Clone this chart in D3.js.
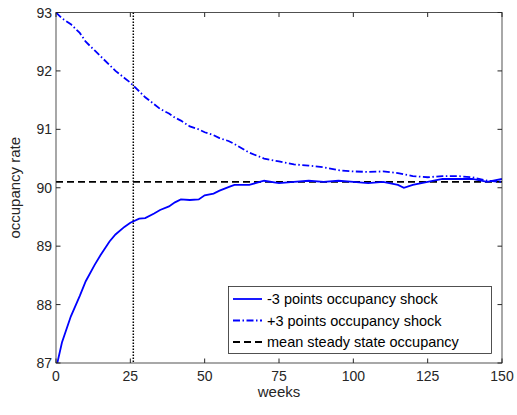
<!DOCTYPE html>
<html><head><meta charset="utf-8">
<script src="https://cdn.jsdelivr.net/npm/d3@7"></script>
<style>body{margin:0;background:#fff}text{font-family:Arial,"Liberation Sans",sans-serif}</style>
</head><body><svg id="c" width="517" height="415"></svg>
<script>
const weeks = [0,2,5,8,10,13,15,18,20,23,25,28,30,33,35,38,40,42,45,48,50,53,55,58,60,65,70,75,80,85,90,95,100,105,110,115,117,120,125,130,135,140,145,150];
const lowShock = [86.9,87.35,87.8,88.15,88.4,88.68,88.85,89.08,89.2,89.33,89.4,89.47,89.48,89.56,89.62,89.68,89.75,89.8,89.79,89.8,89.87,89.9,89.95,90.01,90.05,90.05,90.12,90.08,90.1,90.12,90.1,90.12,90.1,90.08,90.1,90.05,90.0,90.05,90.1,90.15,90.15,90.15,90.1,90.15];
const highShock = [93,92.9,92.8,92.65,92.5,92.35,92.25,92.1,92.0,91.88,91.8,91.65,91.55,91.43,91.35,91.27,91.2,91.15,91.05,91.0,90.95,90.9,90.85,90.8,90.75,90.6,90.5,90.45,90.4,90.38,90.35,90.3,90.28,90.27,90.28,90.25,90.23,90.2,90.18,90.2,90.2,90.18,90.12,90.1];
const steady = 90.1, markWeek = 26;
const xTicks = [0,25,50,75,100,125,150], yTicks = [87,88,89,90,91,92,93];
const legendLabels = ["-3 points occupancy shock","+3 points occupancy shock","mean steady state occupancy"];

const L=56,R=502,T=12.5,B=363;
const svg=d3.select("#c");
const x=d3.scaleLinear().domain([0,150]).range([L,R]);
const y=d3.scaleLinear().domain([87,93]).range([B,T]);
svg.append("defs").append("clipPath").attr("id","cp").append("rect").attr("x",L).attr("y",T).attr("width",R-L).attr("height",B-T);
const g=svg.append("g").attr("clip-path","url(#cp)");
const line=d3.line().x((d,i)=>x(weeks[i])).y(d=>y(d));
g.append("line").attr("x1",x(0)).attr("x2",x(150)).attr("y1",y(steady)).attr("y2",y(steady)).attr("stroke","#000").attr("stroke-width",1.8).attr("stroke-dasharray","7,4");
g.append("line").attr("x1",x(markWeek)).attr("x2",x(markWeek)).attr("y1",T).attr("y2",B).attr("stroke","#000").attr("stroke-width",1.5).attr("stroke-dasharray","1.5,1.5");
g.append("path").datum(lowShock).attr("d",line).attr("fill","none").attr("stroke","#0000ff").attr("stroke-width",1.8);
g.append("path").datum(highShock).attr("d",line).attr("fill","none").attr("stroke","#0000ff").attr("stroke-width",1.8).attr("stroke-dasharray","7,2.5,1.5,2.5");

const ax=svg.append("g").attr("font-size",14).attr("fill","#262626");
xTicks.forEach(t=>{
  ax.append("line").attr("x1",x(t)).attr("x2",x(t)).attr("y1",B).attr("y2",B-4.5).attr("stroke","#262626");
  ax.append("line").attr("x1",x(t)).attr("x2",x(t)).attr("y1",T).attr("y2",T+4.5).attr("stroke","#262626");
  ax.append("text").attr("x",x(t)).attr("y",B+18).attr("text-anchor","middle").text(t);
});
yTicks.forEach(t=>{
  ax.append("line").attr("x1",L).attr("x2",L+4.5).attr("y1",y(t)).attr("y2",y(t)).attr("stroke","#262626");
  ax.append("line").attr("x1",R).attr("x2",R-4.5).attr("y1",y(t)).attr("y2",y(t)).attr("stroke","#262626");
  ax.append("text").attr("x",L-4).attr("y",y(t)+5).attr("text-anchor","end").text(t);
});
svg.append("rect").attr("x",L).attr("y",T).attr("width",R-L).attr("height",B-T).attr("fill","none").attr("stroke","#262626").attr("stroke-width",0.8);
ax.append("text").attr("x",(L+R)/2).attr("y",B+34).attr("text-anchor","middle").attr("font-size",15).text("weeks");
ax.append("text").attr("transform",`translate(${L-36},${(T+B)/2}) rotate(-90)`).attr("text-anchor","middle").attr("font-size",15).text("occupancy rate");

const lg=svg.append("g");
lg.append("rect").attr("x",228.5).attr("y",286.5).attr("width",263).attr("height",67).attr("fill","#fff").attr("stroke","#262626").attr("stroke-width",0.8);
const styles=[null,"7,2.5,1.5,2.5","7,4"], cols=["#0000ff","#0000ff","#000"];
legendLabels.forEach((s,i)=>{
  const yy=299+i*21.5;
  lg.append("line").attr("x1",233).attr("x2",262).attr("y1",yy).attr("y2",yy).attr("stroke",cols[i]).attr("stroke-width",1.8).attr("stroke-dasharray",styles[i]);
  lg.append("text").attr("x",267).attr("y",yy+5).attr("font-size",14.5).attr("fill","#000").text(s);
});
</script></body></html>
